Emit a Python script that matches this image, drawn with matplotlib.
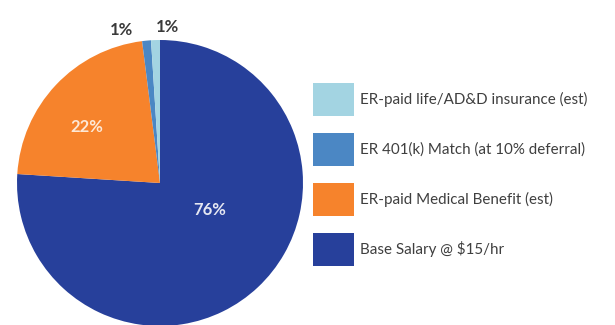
import matplotlib.pyplot as plt

labels = ['Base Salary @ $15/hr', 'ER-paid Medical Benefit (est)',
          'ER 401(k) Match (at 10% deferral)', 'ER-paid life/AD&D insurance (est)']
shares = [76, 22, 1, 1]
pct_text = ['76%', '22%', '1%', '1%']
colors = ['#27409b', '#f6832c', '#4b87c4', '#a3d4e2']

plt.rcParams['font.family'] = ['Lato', 'DejaVu Sans']

fig = plt.figure(figsize=(6.15, 3.25), dpi=100)
ax = fig.add_axes([17 / 615, -1 / 325, 286 / 615, 286 / 325])

wedges, _ = ax.pie(shares, colors=colors, startangle=90, counterclock=False,
                   radius=1, wedgeprops=dict(linewidth=0))
ax.set_xlim(-1, 1)
ax.set_ylim(-1, 1)
ax.set_aspect('equal')
ax.axis('off')

# percentage labels
ax.text(0.35, -0.19, pct_text[0], color='#e6e8f2', fontsize=12, fontweight='bold',
        ha='center', va='center')
ax.text(-0.51, 0.39, pct_text[1], color='#fde8d6', fontsize=12, fontweight='bold',
        ha='center', va='center')
ax.text(-0.27, 1.07, pct_text[2], color='#3a3a3a', fontsize=12, fontweight='bold',
        ha='center', va='center')
ax.text(0.05, 1.09, pct_text[3], color='#3a3a3a', fontsize=12, fontweight='bold',
        ha='center', va='center')

fs = 10.9
fpx = fs * 100 / 72
# patch height in legend = fs*(0.65*hh + 0.245)
hh = (33 / fpx - 0.245) / 0.65
leg = fig.legend(wedges[::-1], labels[::-1], loc='upper left',
                 bbox_to_anchor=(313 / 615, 1 - 83 / 325), frameon=False,
                 fontsize=fs, handlelength=41 / fpx, handleheight=hh,
                 labelspacing=17 / fpx, handletextpad=6 / fpx, borderpad=0,
                 borderaxespad=0, labelcolor='#3f3f3f')

fig.savefig('out.png', dpi=100)
